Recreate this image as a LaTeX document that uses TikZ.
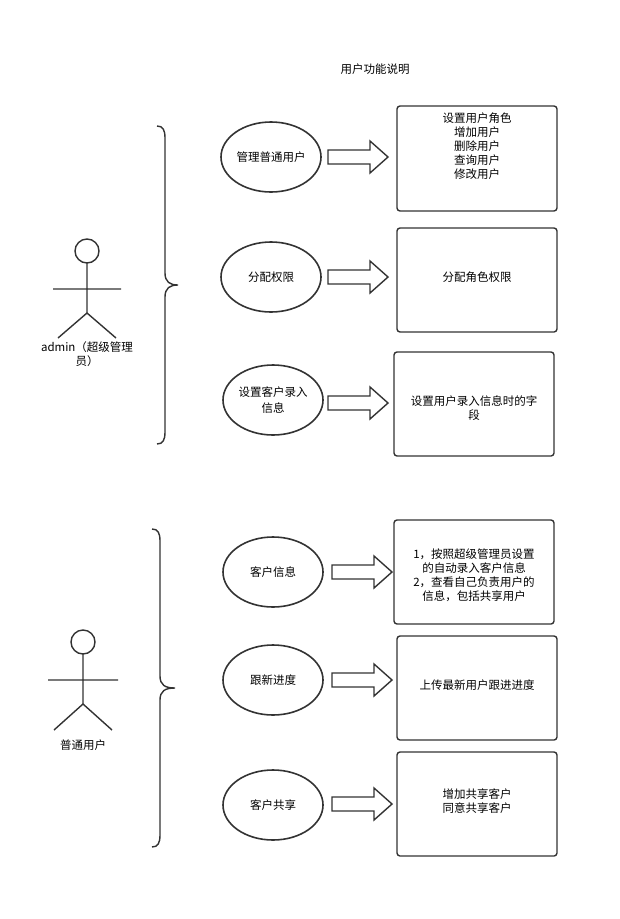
\documentclass[tikz,border=0pt]{standalone}
\usepackage{fontspec}
\setmainfont{Noto Sans CJK SC}
\usetikzlibrary{shapes.geometric}
\definecolor{ln}{HTML}{333333}
\begin{document}
\begin{tikzpicture}[x=1pt,y=-1pt,
  every node/.style={font=\fontsize{11.5}{16}\selectfont,text=black,align=center},
  uc/.style={draw=ln,line width=1.6pt,ellipse,minimum width=100pt,minimum height=70pt,inner sep=0pt},
  box/.style={draw=ln,line width=1.4pt,rounded corners=3pt},
  stroke/.style={draw=ln,line width=1.4pt},
  blk/.style={draw=ln,line width=1.4pt,fill=white}]
\useasboundingbox (0,0) rectangle (619,919);
\node (title) at (375,69) {用户功能说明};
% group 1
\draw[stroke] (157,126) .. controls (163,126) and (165,130) .. (165,138) -- (165,273) .. controls (165,282) and (170,285) .. (178,285) .. controls (170,285) and (165,288) .. (165,297) -- (165,432) .. controls (165,440) and (163,444) .. (157,444);
\node[uc] (e1) at (271,157) {管理普通用户};
\node[uc] (e2) at (271,277) {分配权限};
\node[uc] (e3) at (273,400) {设置客户录入\\信息};
\foreach \x/\y in {328/157,328/277,328/403,332/572,332/680,332/804}{
  \draw[blk] (\x,\y-7) -- (\x+42,\y-7) -- (\x+42,\y-16) -- (\x+60,\y) -- (\x+42,\y+16) -- (\x+42,\y+7) -- (\x,\y+7) -- cycle;}
\draw[box] (397,106) rectangle (557,211);
\node (b1) at (477,146) {设置用户角色\\[-2pt]增加用户\\[-2pt]删除用户\\[-2pt]查询用户\\[-2pt]修改用户};
\draw[box] (397,228) rectangle (557,332);
\node (b2) at (477,277) {分配角色权限};
\draw[box] (394,352) rectangle (554,456);
\node (b3) at (474,408) {设置用户录入信息时的字\\[-2pt]段};
% actor 1
\draw[stroke] (87,251) circle (12);
\draw[stroke] (87,263) -- (87,313) (53,289) -- (121,289) (58,338) -- (87,313) -- (116,338);
\node (a1) at (87,354) {admin（超级管理\\[-2pt]员）};
% group 2
\draw[stroke] (152,529) .. controls (158,529) and (160,533) .. (160,541) -- (160,676) .. controls (160,685) and (165,688) .. (175,688) .. controls (165,688) and (160,691) .. (160,700) -- (160,835) .. controls (160,843) and (158,847) .. (152,847);
\node[uc] (e4) at (273,572) {客户信息};
\node[uc] (e5) at (273,680) {跟新进度};
\node[uc] (e6) at (273,805) {客户共享};
\draw[box] (394,520) rectangle (554,624);
\node (b4) at (474,575) {1，按照超级管理员设置\\[-2pt]的自动录入客户信息\\[-2pt]2，查看自己负责用户的\\[-2pt]信息，包括共享用户};
\draw[box] (397,636) rectangle (557,740);
\node (b5) at (477,685) {上传最新用户跟进进度};
\draw[box] (397,752) rectangle (557,856);
\node (b6) at (477,801) {增加共享客户\\[-2pt]同意共享客户};
% actor 2
\draw[stroke] (83,642) circle (12);
\draw[stroke] (83,654) -- (83,704) (48,680) -- (118,680) (54,730) -- (83,704) -- (112,730);
\node (a2) at (83,745) {普通用户};
\end{tikzpicture}
\end{document}
